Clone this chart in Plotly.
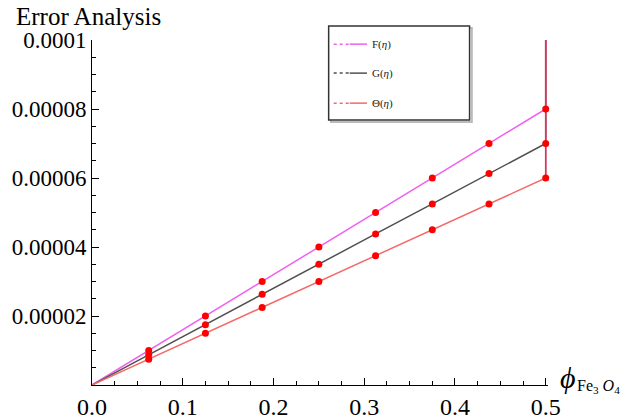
import plotly.graph_objects as go

# volume fraction of Fe3O4 (first point is origin, last repeats 0.5 for the vertical end segment)
phi = [0, 0.0625, 0.125, 0.1875, 0.25, 0.3125, 0.375, 0.4375, 0.5, 0.5]

# error values
err_F = [0, 1.0e-5, 2.0e-5, 3.0e-5, 4.0e-5, 5.0e-5, 6.0e-5, 7.0e-5, 8.0e-5, 1.0e-4]
err_G = [0, 0.88e-5, 1.75e-5, 2.63e-5, 3.5e-5, 4.38e-5, 5.25e-5, 6.13e-5, 7.0e-5, 1.0e-4]
err_T = [0, 0.75e-5, 1.5e-5, 2.25e-5, 3.0e-5, 3.75e-5, 4.5e-5, 5.25e-5, 6.0e-5, 1.0e-4]

names = ['F(<i>η</i>)', 'G(<i>η</i>)', 'Θ(<i>η</i>)']
colors = ['#f060f0', '#505050', '#f46a6a']

y_ticks = [2e-5, 4e-5, 6e-5, 8e-5, 1e-4]
y_ticktext = ['0.00002', '0.00004', '0.00006', '0.00008', '0.0001']

serif = 'Liberation Serif'

fig = go.Figure()

for i, ys in enumerate([err_F, err_G, err_T]):
    fig.add_trace(go.Scatter(x=phi, y=ys, mode='lines', name=names[i],
                             line=dict(color=colors[i], width=1.5),
                             showlegend=False, cliponaxis=False))

# vertical end segment, dark red like the overlap in the original
fig.add_trace(go.Scatter(x=phi[8:], y=[err_T[8], err_T[9]], mode='lines',
                         line=dict(color='#c83c64', width=1.6),
                         showlegend=False, cliponaxis=False))

# red sample points on every curve
for ys in [err_F, err_G, err_T]:
    fig.add_trace(go.Scatter(x=phi[1:9], y=ys[1:9], mode='markers',
                             marker=dict(color='#ff0000', size=7),
                             showlegend=False, cliponaxis=False))

# page has an 8px body margin, so the figure is 8px smaller and margins shifted
fig.update_layout(
    width=621, height=409,
    margin=dict(l=84, r=81, t=32, b=32, autoexpand=False),
    plot_bgcolor='white', paper_bgcolor='white',
    font=dict(family=serif, size=25, color='black'),
    showlegend=False,
    xaxis=dict(range=[0, 0.5025], tickvals=[0, 0.1, 0.2, 0.3, 0.4, 0.5],
               ticktext=['0.0', '0.1', '0.2', '0.3', '0.4', '0.5'],
               showline=True, linecolor='black', linewidth=1,
               ticks='inside', ticklen=7, tickcolor='black', automargin=False,
               tickfont=dict(size=24),
               minor=dict(dtick=0.025, ticks='inside', ticklen=4, tickcolor='black'),
               showgrid=False, zeroline=False, fixedrange=True),
    yaxis=dict(range=[0, 1e-4], tickvals=y_ticks, ticktext=y_ticktext,
               showline=True, linecolor='black', linewidth=1,
               ticks='inside', ticklen=7, tickcolor='black', automargin=False,
               tickfont=dict(size=23),
               minor=dict(dtick=5e-6, ticks='inside', ticklen=4, tickcolor='black'),
               showgrid=False, zeroline=False, fixedrange=True),
)

# hand-made legend box (dotted then solid sample, like the original)
fig.add_shape(type='rect', xref='paper', yref='paper', x0=0.524, x1=0.833, y0=0.762, y1=1.035,
              line=dict(color='#bbbbbb', width=2), layer='above')
fig.add_shape(type='rect', xref='paper', yref='paper', x0=0.519, x1=0.828, y0=0.768, y1=1.0406,
              line=dict(color='#333333', width=1.5), fillcolor='white', layer='above')
leg_y = [0.988, 0.904, 0.817]
for i in range(3):
    fig.add_shape(type='line', xref='paper', yref='paper', x0=0.530, x1=0.565, y0=leg_y[i], y1=leg_y[i],
                  line=dict(color=colors[i], width=1.5, dash='dot'), layer='above')
    fig.add_shape(type='line', xref='paper', yref='paper', x0=0.565, x1=0.603, y0=leg_y[i], y1=leg_y[i],
                  line=dict(color=colors[i], width=1.5), layer='above')
    fig.add_annotation(text=names[i], xref='paper', yref='paper', x=0.609, y=leg_y[i],
                       xanchor='left', yanchor='middle', showarrow=False,
                       font=dict(family=serif, size=11, color='#222222'))

fig.add_annotation(text='Error Analysis', xref='paper', yref='paper',
                   x=0, y=1.0, xanchor='left', yanchor='top', xshift=-78, yshift=39,
                   showarrow=False, font=dict(family=serif, size=25))
fig.add_annotation(text='<i>ϕ</i>', xref='paper', yref='paper',
                   x=1.0, y=0.0, xanchor='left', yanchor='middle', xshift=10, yshift=8,
                   showarrow=False, font=dict(family=serif, size=30))
fig.add_annotation(text='Fe<sub>3</sub> <i>O</i><sub>4</sub>', xref='paper', yref='paper',
                   x=1.0, y=0.0, xanchor='left', yanchor='middle', xshift=27, yshift=-1,
                   showarrow=False, font=dict(family=serif, size=16))

fig.write_html("out.html")
